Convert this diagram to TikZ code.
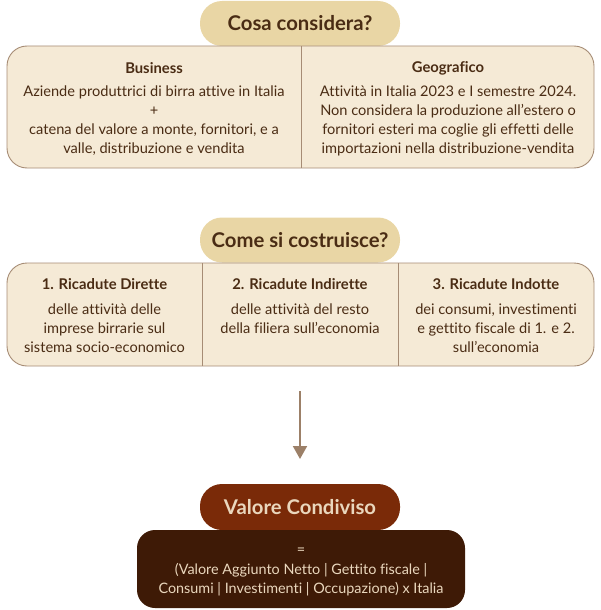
\documentclass[tikz,border=0pt]{standalone}
\usepackage{fontspec}
\setmainfont{Lato}[Ligatures={NoCommon}]
\usetikzlibrary{arrows.meta}
\definecolor{txt}{HTML}{4A2C14}
\definecolor{pillfill}{HTML}{E9D6A5}
\definecolor{boxfill}{HTML}{F5EAD6}
\definecolor{boxline}{HTML}{A68C75}
\definecolor{arrowc}{HTML}{9C8068}
\definecolor{redpill}{HTML}{7A2A08}
\definecolor{darkbox}{HTML}{3E1A06}
\definecolor{lighttxt}{HTML}{EAD7BD}
\tikzset{
  pill/.style={fill=pillfill, rounded corners=22pt, minimum width=200pt, minimum height=45pt, text=txt, font=\fontsize{20.3}{22}\selectfont\bfseries, inner sep=0pt},
  bigbox/.style={fill=boxfill, draw=boxline, line width=0.9pt, rounded corners=20pt, inner sep=0pt},
  divider/.style={draw=boxline, line width=0.9pt},
  head/.style={text=txt, font=\fontsize{14.8}{17}\selectfont\bfseries, inner sep=0pt},
  body/.style={text=txt, font=\fontsize{14.6}{19}\selectfont, align=center, inner sep=0pt},
  redpillst/.style={fill=redpill, rounded corners=22pt, minimum width=200pt, minimum height=46pt, text=lighttxt, font=\fontsize{20.3}{22}\selectfont\bfseries, inner sep=0pt},
  darkboxst/.style={fill=darkbox, rounded corners=18pt, minimum width=328pt, minimum height=78pt, inner sep=0pt},
  lightbody/.style={text=lighttxt, font=\fontsize{14.4}{19.5}\selectfont, align=center, inner sep=0pt},
  flow/.style={draw=arrowc, line width=2pt, -{Triangle[length=13pt,width=14pt]}}
}
\begin{document}
\begin{tikzpicture}[x=1pt,y=-1pt]
\useasboundingbox (0,0) rectangle (601,610);
% --- Section 1
\node[pill] (p1) at (300,23.5) {Cosa considera?};
\node[bigbox, minimum width=587pt, minimum height=122pt] (b1) at (300.5,107) {};
\coordinate (d1t) at (301,46);
\coordinate (d1b) at (301,168);
\draw[divider] (d1t) -- (d1b);
\node[head] (h11) at (154,68) {Business};
\node[body] (t11) at (154,120.5) {Aziende produttrici di birra attive in Italia\\+\\catena del valore a monte, fornitori, e a\\valle, distribuzione e vendita};
\node[head] (h12) at (448,68) {Geografico};
\node[body] (t12) at (448,121) {Attività in Italia 2023 e I semestre 2024.\\Non considera la produzione all’estero o\\fornitori esteri ma coglie gli effetti delle\\importazioni nella distribuzione-vendita};
% --- Section 2
\node[pill] (p2) at (300,240) {Come si costruisce?};
\node[bigbox, minimum width=587pt, minimum height=103pt] (b2) at (300.5,314.5) {};
\coordinate (d2at) at (202,263);
\coordinate (d2ab) at (202,366);
\coordinate (d2bt) at (398,263);
\coordinate (d2bb) at (398,366);
\draw[divider] (d2at) -- (d2ab);
\draw[divider] (d2bt) -- (d2bb);
\node[head] (h21) at (104.5,284) {1. Ricadute Dirette};
\node[body] (t21) at (104.5,328) {delle attività delle\\imprese birrarie sul\\sistema socio-economico};
\node[head] (h22) at (300,284) {2. Ricadute Indirette};
\node[body] (t22) at (300,318.5) {delle attività del resto\\della filiera sull’economia};
\node[head] (h23) at (496,284) {3. Ricadute Indotte};
\node[body] (t23) at (496,328) {dei consumi, investimenti\\e gettito fiscale di 1. e 2.\\sull’economia};
% --- Arrow
\coordinate (a1) at (300,391);
\coordinate (a2) at (300,459);
\draw[flow] (a1) -- (a2);
% --- Section 3
\node[redpillst] (p3) at (300,507) {Valore Condiviso};
\node[darkboxst] (b3) at (301,569) {};
\node[lightbody] (t3) at (301,572) {=\\(Valore Aggiunto Netto | Gettito fiscale |\\Consumi | Investimenti | Occupazione) x Italia};
\end{tikzpicture}
\end{document}
